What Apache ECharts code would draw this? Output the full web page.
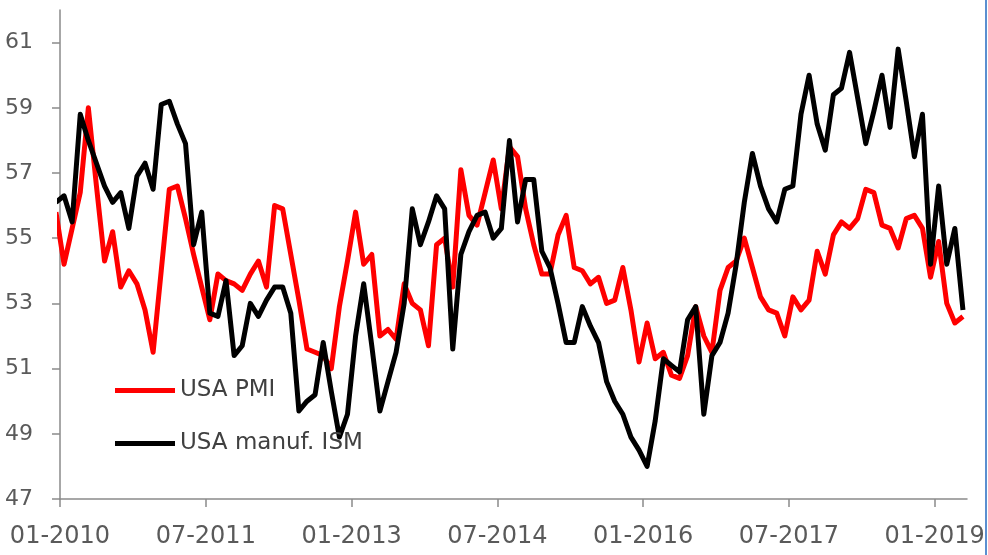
<!DOCTYPE html>
<html>
<head>
<meta charset="utf-8">
<script src="https://cdn.jsdelivr.net/npm/echarts@6/dist/echarts.min.js"></script>
<style>
html,body{margin:0;padding:0;background:#fff;}
#chart{width:988px;height:555px;}
</style>
</head>
<body>
<div id="chart"></div>
<script>
// Monthly observations, Dec 2009 (clipped at the axis) through Apr 2019
const firstYear = 2009, firstMonth = 12;
const months = [];
for (let k = 0; k < 113; k++) {
  const t = (firstYear * 12 + firstMonth - 1) + k;
  const y = Math.floor(t / 12), m = t % 12 + 1;
  months.push(String(m).padStart(2, '0') + '-' + y);
}

const usaPmi = [
  55.8,
  54.2, 55.3, 56.4, 59.0, 56.6, 54.3, 55.2, 53.5, 54.0, 53.6, 52.8, 51.5,
  54.0, 56.5, 56.6, 55.6, 54.5, 53.5, 52.5, 53.9, 53.7, 53.6, 53.4, 53.9,
  54.3, 53.5, 56.0, 55.9, 54.5, 53.1, 51.6, 51.5, 51.4, 51.0, 52.9, 54.3,
  55.8, 54.2, 54.5, 52.0, 52.2, 51.9, 53.6, 53.0, 52.8, 51.7, 54.8, 55.0,
  53.5, 57.1, 55.7, 55.4, 56.4, 57.4, 55.9, 57.8, 57.5, 55.9, 54.8, 53.9,
  53.9, 55.1, 55.7, 54.1, 54.0, 53.6, 53.8, 53.0, 53.1, 54.1, 52.8, 51.2,
  52.4, 51.3, 51.5, 50.8, 50.7, 51.4, 52.9, 52.0, 51.5, 53.4, 54.1, 54.3,
  55.0, 54.1, 53.2, 52.8, 52.7, 52.0, 53.2, 52.8, 53.1, 54.6, 53.9, 55.1,
  55.5, 55.3, 55.6, 56.5, 56.4, 55.4, 55.3, 54.7, 55.6, 55.7, 55.3, 53.8,
  54.9, 53.0, 52.4, 52.6
];

const usaIsm = [
  56.1,
  56.3, 55.5, 58.8, 58.0, 57.3, 56.6, 56.1, 56.4, 55.3, 56.9, 57.3, 56.5,
  59.1, 59.2, 58.5, 57.9, 54.8, 55.8, 52.7, 52.6, 53.7, 51.4, 51.7, 53.0,
  52.6, 53.1, 53.5, 53.5, 52.7, 49.7, 50.0, 50.2, 51.8, 50.3, 48.9, 49.6,
  52.0, 53.6, 51.7, 49.7, 50.6, 51.5, 53.0, 55.9, 54.8, 55.5, 56.3, 55.9,
  51.6, 54.5, 55.2, 55.7, 55.8, 55.0, 55.3, 58.0, 55.5, 56.8, 56.8, 54.6,
  54.1, 53.0, 51.8, 51.8, 52.9, 52.3, 51.8, 50.6, 50.0, 49.6, 48.9, 48.5,
  48.0, 49.4, 51.3, 51.1, 50.9, 52.5, 52.9, 49.6, 51.4, 51.8, 52.7, 54.2,
  56.1, 57.6, 56.6, 55.9, 55.5, 56.5, 56.6, 58.8, 60.0, 58.5, 57.7, 59.4,
  59.6, 60.7, 59.3, 57.9, 58.9, 60.0, 58.4, 60.8, 59.2, 57.5, 58.8, 54.2,
  56.6, 54.2, 55.3, 52.8
];

// x axis in months since Jan 2010; each month is a band, points sit mid-band
const xTickValues = [0, 18, 36, 54, 72, 90, 108];
const xTickLabels = ['01-2010', '07-2011', '01-2013', '07-2014', '01-2016', '07-2017', '01-2019'];
const yTickValues = [47, 49, 51, 53, 55, 57, 59, 61];

const seriesNames = ['USA PMI', 'USA manuf. ISM'];

function toPoints(vals) {
  return vals.map((v, k) => [k - 1 + 0.5, v]);
}

const chart = echarts.init(document.getElementById('chart'));
const axisColor = '#8a8a8a';
const labelColor = '#5a5a5a';
const font = 'DejaVu Sans';

chart.setOption({
  animation: false,
  backgroundColor: '#ffffff',
  grid: { left: 60, right: 21, top: 10, bottom: 56, containLabel: false },
  legend: {
    orient: 'vertical',
    left: 115,
    top: 379,
    padding: 0,
    itemWidth: 60,
    itemHeight: 5,
    itemGap: 30,
    icon: 'rect',
    textStyle: { fontFamily: font, fontSize: 23, color: '#404040' },
    data: seriesNames
  },
  xAxis: {
    type: 'value',
    min: 0,
    max: 112,
    splitLine: { show: false },
    axisLine: { lineStyle: { color: axisColor, width: 1.5 } },
    axisTick: { show: true, length: 8, customValues: xTickValues, lineStyle: { color: axisColor, width: 1.5 } },
    axisLabel: {
      customValues: xTickValues,
      margin: 26,
      fontFamily: font,
      fontSize: 24,
      color: labelColor,
      formatter: function (v) {
        const i = xTickValues.indexOf(Math.round(v));
        return i >= 0 ? xTickLabels[i] : '';
      }
    }
  },
  yAxis: {
    type: 'value',
    min: 47,
    max: 62,
    splitLine: { show: false },
    axisLine: { show: true, lineStyle: { color: axisColor, width: 1.5 } },
    axisTick: { show: true, length: 8, customValues: yTickValues, lineStyle: { color: axisColor, width: 1.5 } },
    axisLabel: {
      customValues: yTickValues,
      margin: 27,
      fontFamily: font,
      fontSize: 22,
      color: labelColor
    }
  },
  series: [
    {
      name: seriesNames[0],
      type: 'line',
      data: toPoints(usaPmi),
      symbol: 'none',
      clip: true,
      color: '#ff0000',
      lineStyle: { color: '#ff0000', width: 5, join: 'round', cap: 'butt' }
    },
    {
      name: seriesNames[1],
      type: 'line',
      data: toPoints(usaIsm),
      symbol: 'none',
      clip: true,
      color: '#000000',
      lineStyle: { color: '#000000', width: 5, join: 'round', cap: 'butt' }
    }
  ],
  graphic: [
    { type: 'rect', left: 985, top: 0, shape: { width: 2, height: 555 }, style: { fill: '#5b8fd0' }, silent: true }
  ]
});
</script>
</body>
</html>
